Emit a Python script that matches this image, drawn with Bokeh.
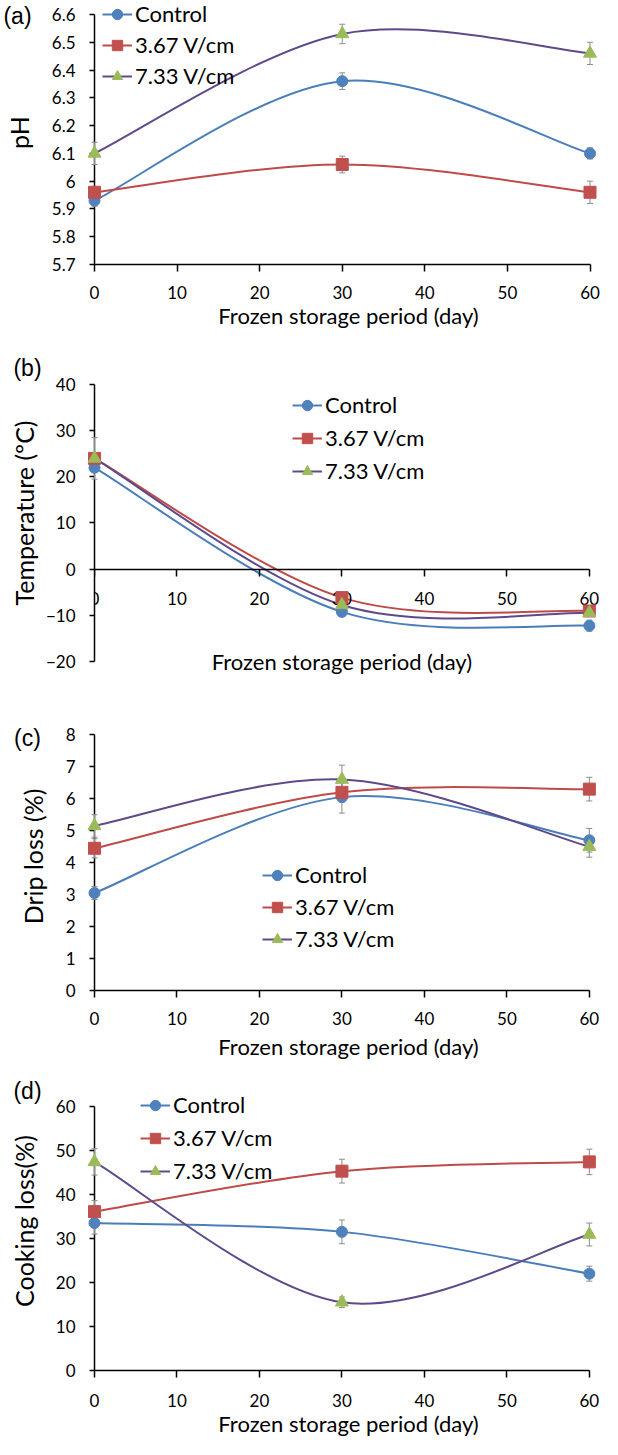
import math
from bokeh.plotting import figure
from bokeh.models import (Range1d, FixedTicker, Legend, LegendItem, ColumnDataSource)
from bokeh.core.properties import value
from bokeh.layouts import column
from bokeh.embed import file_html
from bokeh.resources import INLINE

# ---------------- data ----------------
days = [0, 30, 60]
series_names = ["Control", "3.67 V/cm", "7.33 V/cm"]
x_ticks = [0, 10, 20, 30, 40, 50, 60]
x_tick_labels = ["0", "10", "20", "30", "40", "50", "60"]
x_title = "Frozen storage period (day)"

# (a) pH
ph_control = [5.93, 6.36, 6.10]
ph_367 = [5.96, 6.06, 5.96]
ph_733 = [6.10, 6.53, 6.46]
ph_err_control = [0.02, 0.03, 0.02]
ph_err_367 = [0.02, 0.03, 0.04]
ph_err_733 = [0.04, 0.035, 0.04]
ph_ticks = [5.7, 5.8, 5.9, 6.0, 6.1, 6.2, 6.3, 6.4, 6.5, 6.6]
ph_tick_labels = ["5.7", "5.8", "5.9", "6", "6.1", "6.2", "6.3", "6.4", "6.5", "6.6"]

# (b) temperature
temp_control = [22.0, -9.3, -12.3]
temp_367 = [24.0, -6.2, -9.1]
temp_733 = [24.0, -7.8, -9.5]
temp_err_control = [1.0, 1.0, 1.2]
temp_err_367 = [4.5, 0.8, 0.8]
temp_err_733 = [1.0, 0.8, 0.8]
temp_ticks = [-20, -10, 0, 10, 20, 30, 40]
temp_tick_labels = ["\u221220", "\u221210", "0", "10", "20", "30", "40"]

# (c) drip loss
drip_control = [3.05, 6.05, 4.70]
drip_367 = [4.45, 6.20, 6.30]
drip_733 = [5.15, 6.60, 4.50]
drip_err_control = [0.2, 0.5, 0.37]
drip_err_367 = [0.3, 0.3, 0.37]
drip_err_733 = [0.35, 0.45, 0.33]
drip_ticks = [0, 1, 2, 3, 4, 5, 6, 7, 8]
drip_tick_labels = ["0", "1", "2", "3", "4", "5", "6", "7", "8"]

# (d) cooking loss
cook_control = [33.5, 31.5, 22.0]
cook_367 = [36.1, 45.3, 47.4]
cook_733 = [47.4, 15.5, 30.9]
cook_err_control = [2.5, 2.7, 1.7]
cook_err_367 = [2.5, 2.7, 2.9]
cook_err_733 = [3.0, 1.2, 2.6]
cook_ticks = [0, 10, 20, 30, 40, 50, 60]
cook_tick_labels = ["0", "10", "20", "30", "40", "50", "60"]

# ---------------- style ----------------
FONT = "Lato"
LETTER_FONT = "Liberation Sans"
LINE_COLORS = ["#4A7EBB", "#BE4B48", "#5E4A8A"]
MARK_COLORS = ["#4F81BD", "#C0504D", "#9BBB59"]
MARKERS = ["circle", "square", "triangle"]
MSIZES = [11, 12, 13]
ERR_COLOR = "#8C8C8C"
W = 602


def smooth(xs, ys, t=1.0 / 6.0):
    n = len(xs)
    out = dict(x0=[], y0=[], x1=[], y1=[], cx0=[], cy0=[], cx1=[], cy1=[])
    for i in range(n - 1):
        ip = max(i - 1, 0)
        inn = min(i + 2, n - 1)
        out["x0"].append(xs[i]); out["y0"].append(ys[i])
        out["x1"].append(xs[i + 1]); out["y1"].append(ys[i + 1])
        out["cx0"].append(xs[i] + (xs[i + 1] - xs[ip]) * t)
        out["cy0"].append(ys[i] + (ys[i + 1] - ys[ip]) * t)
        out["cx1"].append(xs[i + 1] - (xs[inn] - xs[i]) * t)
        out["cy1"].append(ys[i + 1] - (ys[inn] - ys[i]) * t)
    return out


def make_panel(series, errs, ylim, yticks, ylabels, ytitle, letter, L):
    # pixel geometry of the frame -> data ranges
    x0px, x60px = L["x0px"], L["x60px"]
    ppx = (x60px - x0px) / 60.0
    x_end = (W - x0px) / ppx
    ytop_px, ybot_px, fbot = L["ytop_px"], L["ybot_px"], L["fbot"]
    ppy = (ybot_px - ytop_px) / (ylim[1] - ylim[0])
    y_hi = ylim[1] + ytop_px / ppy
    y_lo = ylim[0] - (fbot - ybot_px) / ppy
    p = figure(width=W, height=L["h"], x_range=Range1d(0, x_end), y_range=Range1d(y_lo, y_hi),
               output_backend="svg", toolbar_location=None,
               min_border_left=x0px, min_border_right=0,
               min_border_top=0, min_border_bottom=L["h"] - fbot)
    p.outline_line_color = None
    p.xgrid.visible = False
    p.ygrid.visible = False
    xa = p.xaxis[0]
    ya = p.yaxis[0]
    xa.ticker = FixedTicker(ticks=x_ticks)
    xa.major_label_overrides = dict(zip(x_ticks, x_tick_labels))
    xa.bounds = (0, 60)
    ya.ticker = FixedTicker(ticks=yticks)
    ya.major_label_overrides = dict(zip(yticks, ylabels))
    ya.bounds = ylim
    if L.get("xfixed") is not None:
        xa.fixed_location = L["xfixed"]
    for ax in (xa, ya):
        ax.axis_line_color = "black"
        ax.axis_line_width = 1.5
        ax.major_tick_line_color = "black"
        ax.major_tick_line_width = 1.5
        ax.major_tick_in = 0
        ax.minor_tick_line_color = None
        ax.major_label_text_font = FONT
        ax.major_label_text_font_size = "17px"
        ax.major_label_text_color = "black"
        ax.axis_label_text_font = FONT
        ax.axis_label_text_font_style = "normal"
        ax.axis_label_text_color = "black"
    xa.axis_label_text_font_size = "22px"
    ya.axis_label_text_font_size = "25px"
    xa.major_tick_out = 7
    ya.major_tick_out = 5
    xa.major_label_standoff = L["xstand"]
    ya.major_label_standoff = 14
    ya.axis_label = ytitle
    ya.axis_label_standoff = L["yals"]
    if L.get("xals") is not None:
        xa.axis_label = x_title
        xa.axis_label_standoff = L["xals"]
    else:
        p.text(x=[30], y=[ylim[0]], text=[x_title], text_align="center", text_baseline="middle",
               text_font=value(FONT), text_font_size="22px", text_color="black",
               y_offset=L["xty"], level="overlay")

    # lines
    lines = []
    for i, ys in enumerate(series):
        seg = smooth(days, ys)
        lines.append(p.bezier(source=ColumnDataSource(seg), x0="x0", y0="y0", x1="x1", y1="y1",
                              cx0="cx0", cy0="cy0", cx1="cx1", cy1="cy1",
                              line_color=LINE_COLORS[i], line_width=2))
    # error bars
    for ys, es in zip(series, errs):
        up = [a + b for a, b in zip(ys, es)]
        lo = [a - b for a, b in zip(ys, es)]
        p.segment(x0=days, y0=lo, x1=days, y1=up, line_color=ERR_COLOR, line_width=1,
                  level="overlay")
        p.scatter(days + days, up + lo, marker="dash", size=6, line_color=ERR_COLOR,
                  line_width=1, level="overlay")
    marks = []
    for i, ys in enumerate(series):
        marks.append(p.scatter(days, ys, marker=MARKERS[i], size=MSIZES[i],
                               fill_color=MARK_COLORS[i], line_color=MARK_COLORS[i],
                               level="overlay"))
    items = [LegendItem(label=series_names[i], renderers=[lines[i], marks[i]]) for i in range(3)]
    leg = Legend(items=items, location=(L["lx"], L["ly"]), glyph_width=30, glyph_height=26,
                 label_height=26, spacing=L["lsp"], padding=0, margin=0, label_standoff=3,
                 border_line_color=None, background_fill_alpha=0,
                 label_text_font=FONT, label_text_font_size="22px", label_text_color="black")
    p.add_layout(leg)

    p.text(x=[0], y=[ylim[1]], text=[letter], text_align="center", text_baseline="middle",
           text_font=value(LETTER_FONT), text_font_size="23px", text_color="black",
           x_offset=L["ltx"], y_offset=L["lty"], level="overlay")
    return p


pa = make_panel([ph_control, ph_367, ph_733], [ph_err_control, ph_err_367, ph_err_733],
                (5.7, 6.6), ph_ticks, ph_tick_labels, "pH", "(a)",
                dict(h=351, x0px=94, x60px=589.5, ytop_px=14, ybot_px=264, fbot=264,
                     xstand=14, xals=0, yals=15,
                     lx=8, ly=175, lsp=4, ltx=-77, lty=1.7))
pb = make_panel([temp_control, temp_367, temp_733], [temp_err_control, temp_err_367, temp_err_733],
                (-20, 40), temp_ticks, temp_tick_labels, "Temperature (\u00baC)", "(b)",
                dict(h=371, x0px=84, x60px=588.6, ytop_px=33.2, ybot_px=309.7, fbot=323,
                     xstand=16, xfixed=0, xty=0, yals=4,
                     lx=198, ly=190, lsp=6, ltx=-67, lty=-16.7))
pc = make_panel([drip_control, drip_367, drip_733], [drip_err_control, drip_err_367, drip_err_733],
                (0, 8), drip_ticks, drip_tick_labels, "Drip loss (%)", "(c)",
                dict(h=349, x0px=84, x60px=588.6, ytop_px=12.3, ybot_px=268, fbot=268,
                     xstand=14, xals=5, yals=15,
                     lx=168, ly=38, lsp=5, ltx=-67, lty=2.7))
pd_ = make_panel([cook_control, cook_367, cook_733], [cook_err_control, cook_err_367, cook_err_733],
                 (0, 60), cook_ticks, cook_tick_labels, "Cooking loss(%)", "(d)",
                 dict(h=368, x0px=84, x60px=588.6, ytop_px=35.3, ybot_px=302, fbot=302,
                      xstand=16, xals=0, yals=14,
                      lx=46, ly=186, lsp=6, ltx=-67, lty=-15.7))

layout = column(pa, pb, pc, pd_, spacing=0)
open("out.html", "w").write(file_html(layout, INLINE))
